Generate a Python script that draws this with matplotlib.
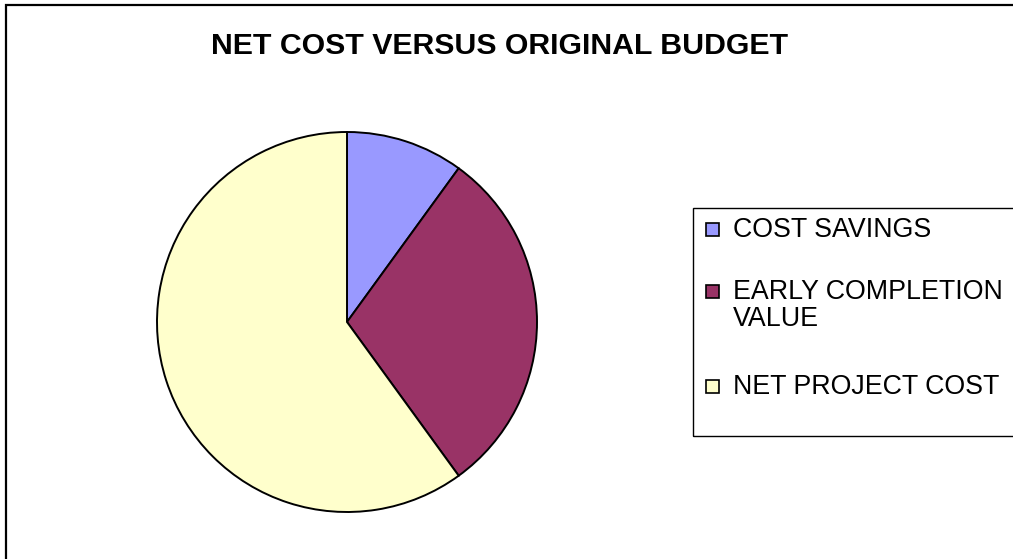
import matplotlib.pyplot as plt
from matplotlib.patches import Rectangle

plt.rcParams['font.family'] = ['Liberation Sans', 'DejaVu Sans']

# Data
labels = ['COST SAVINGS', 'EARLY COMPLETION\nVALUE', 'NET PROJECT COST']
values = [10, 30, 60]
colors = ['#9999FF', '#993366', '#FFFFCC']

W, H = 1013, 559
fig = plt.figure(figsize=(W / 100, H / 100), dpi=100)

# outer chart border (runs off right and bottom edges)
fig.patches.append(Rectangle((5.5 / W, -0.05), 1.1, (H - 5) / H + 0.05,
                             transform=fig.transFigure, fill=False,
                             edgecolor='black', linewidth=1.6))

fig.text(500 / W, 1 - 46 / H, 'NET COST VERSUS ORIGINAL BUDGET',
         ha='center', va='center', fontsize=21.8, fontweight='bold')

# pie
cx, cy, r = 347, 322, 190
ax = fig.add_axes([(cx - r) / W, (H - cy - r) / H, 2 * r / W, 2 * r / H])
wedges, _ = ax.pie(values, colors=colors, startangle=90, counterclock=False,
                   wedgeprops=dict(edgecolor='black', linewidth=1.4))
ax.set_xlim(-1, 1)
ax.set_ylim(-1, 1)
ax.set_aspect('equal')

# legend box (also runs off right edge)
fig.patches.append(Rectangle((693 / W, 1 - 436 / H), 0.5, (436 - 208) / H,
                             transform=fig.transFigure, fill=False,
                             edgecolor='black', linewidth=1.0))
row_y = [228, 290, 385]  # pixel centre of first text line of each entry
for lab, col, y in zip(labels, colors, row_y):
    fig.patches.append(Rectangle((706 / W, 1 - (y + 8) / H), 13 / W, 13 / H,
                                 transform=fig.transFigure, facecolor=col,
                                 edgecolor='black', linewidth=1.2))
    fig.text(733 / W, 1 - (y - 11) / H, lab, ha='left', va='top',
             fontsize=19.3, linespacing=1.05)

fig.savefig('out.png', dpi=100)
